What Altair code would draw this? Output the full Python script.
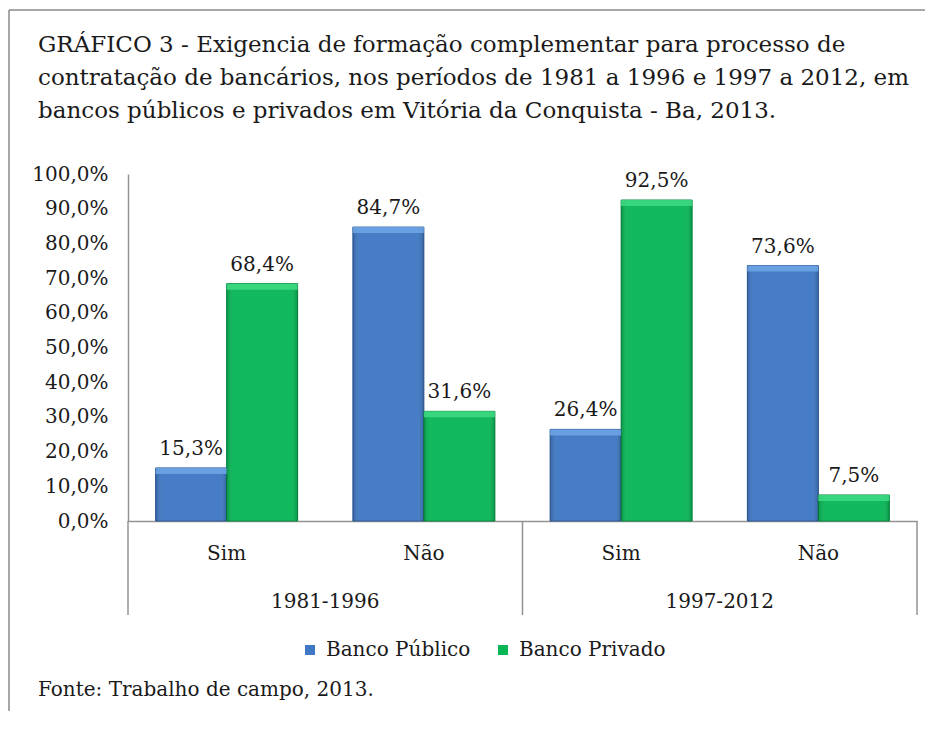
import altair as alt
import pandas as pd

periods = ["1981-1996", "1981-1996", "1997-2012", "1997-2012"]
answers = ["Sim", "Não", "Sim", "Não"]
publico = [15.3, 84.7, 26.4, 73.6]
privado = [68.4, 31.6, 92.5, 7.5]
series = ["Banco Público", "Banco Privado"]
fill_colors = ["#3F78C4", "#08B656"]
stroke_colors = ["#2D5A96", "#06893F"]
top_colors = ["#6FA6E6", "#3FDB83"]
y_ticks = [0, 10, 20, 30, 40, 50, 60, 70, 80, 90, 100]
title_lines = [
    "GRÁFICO 3 - Exigencia de formação complementar para processo de",
    "contratação de bancários, nos períodos de 1981 a 1996 e 1997 a 2012, em",
    "bancos públicos  e privados em Vitória da Conquista - Ba, 2013.",
]
source_text = "Fonte: Trabalho de campo, 2013."

keys = [f"{p}|{a}" for p, a in zip(periods, answers)]
rows = []
for k, p, a, v1, v2 in zip(keys, periods, answers, publico, privado):
    for s, v in zip(series, (v1, v2)):
        rows.append(dict(key=k, period=p, answer=a, series=s, value=v,
                         label=f"{v:.1f}".replace(".", ",") + "%"))
df = pd.DataFrame(rows)

W, H = 789, 347
FONT = "DejaVu Serif"
TXT = "#1a1a1a"
GRAY = "#939393"

xscale = alt.Scale(paddingInner=0, paddingOuter=0)
x_enc = alt.X("key:N", sort=keys, scale=xscale,
              axis=alt.Axis(title=None, ticks=False, tickSize=0, domainColor=GRAY,
                            domainWidth=1.5, labelExpr="split(datum.value, '|')[1]",
                            labelFont=FONT, labelFontSize=20, labelColor=TXT,
                            labelPadding=22, labelAngle=0, labelOverlap=False))
xo_enc = alt.XOffset("series:N", sort=series,
                     scale=alt.Scale(paddingInner=0, paddingOuter=0.389))
y_enc = alt.Y("value:Q", scale=alt.Scale(domain=[0, 100]),
              axis=alt.Axis(title=None, values=y_ticks, grid=False, ticks=False, tickSize=0,
                            domainColor=GRAY, domainWidth=1.5,
                            labelExpr="replace(format(datum.value, '.1f'), '.', ',') + '%'",
                            labelFont=FONT, labelFontSize=20, labelColor=TXT,
                            labelPadding=20))

bars = alt.Chart(df).mark_bar(strokeWidth=1).encode(
    x=x_enc, xOffset=xo_enc, y=y_enc,
    color=alt.Color("series:N", sort=series,
                    scale=alt.Scale(domain=series, range=fill_colors),
                    legend=alt.Legend(title=None, orient="none", legendX=172, legendY=466,
                                      direction="horizontal", symbolType="square",
                                      symbolSize=100, labelFont=FONT, labelFontSize=20,
                                      labelColor=TXT, columnPadding=22, labelOffset=6,
                                      symbolStrokeWidth=0)),
    stroke=alt.Stroke("series:N", sort=series,
                      scale=alt.Scale(domain=series, range=stroke_colors), legend=None),
)

shade = alt.Chart(df).mark_bar(
    fill=alt.Gradient(gradient="linear", x1=0, x2=1, y1=0, y2=0,
                      stops=[alt.GradientStop(offset=0, color="rgba(0,0,0,0.18)"),
                             alt.GradientStop(offset=0.1, color="rgba(255,255,255,0.04)"),
                             alt.GradientStop(offset=0.9, color="rgba(255,255,255,0.04)"),
                             alt.GradientStop(offset=1, color="rgba(0,0,0,0.18)")])
).encode(x=x_enc, xOffset=xo_enc, y=y_enc)

top_strip = alt.Chart(df).mark_bar(y2Offset=6, opacity=0.85, xOffset=2, x2Offset=-2).encode(
    x=x_enc, xOffset=xo_enc, y=y_enc, y2=alt.Y2("value:Q"),
    fill=alt.Fill("series:N", sort=series,
                  scale=alt.Scale(domain=series, range=top_colors), legend=None),
)

labels = alt.Chart(df).mark_text(baseline="bottom", dy=-9, font=FONT, fontSize=20,
                                 color=TXT).encode(
    x=x_enc, xOffset=xo_enc, y=y_enc, text="label:N")

pdf = pd.DataFrame({"period": [periods[0], periods[2]], "key": [keys[1], keys[3]]})
period_labels = alt.Chart(pdf).mark_text(font=FONT, fontSize=20, color=TXT,
                                         baseline="middle").encode(
    x=alt.X("key:N", sort=keys, bandPosition=0), y=alt.value(428), text="period:N")

ddf = pd.DataFrame({"key": [keys[0], keys[2]]})
dividers = alt.Chart(ddf).mark_rule(color=GRAY, strokeWidth=1.5).encode(
    x=alt.X("key:N", sort=keys, bandPosition=0), y=alt.value(H), y2=alt.value(441))
rdf = pd.DataFrame({"key": [keys[3]]})
divider_r = alt.Chart(rdf).mark_rule(color=GRAY, strokeWidth=1.5).encode(
    x=alt.X("key:N", sort=keys, bandPosition=1), y=alt.value(H), y2=alt.value(441))

frame_df = pd.DataFrame({"k": [0]})
frame_left = alt.Chart(frame_df).mark_rule(color="#8a8a8a", strokeWidth=1.5).encode(
    x=alt.value(-119), y=alt.value(-164), y2=alt.value(600))
frame_top = alt.Chart(frame_df).mark_rule(color="#8a8a8a", strokeWidth=1.5).encode(
    x=alt.value(-119), x2=alt.value(830), y=alt.value(-164))

title = alt.Chart(pd.DataFrame({"t": ["\n".join(title_lines)]})).mark_text(
    align="left", baseline="top", lineBreak="\n", lineHeight=33, font=FONT,
    fontSize=23, color=TXT).encode(x=alt.value(-90), y=alt.value(-140), text="t:N")

source = alt.Chart(pd.DataFrame({"t": [source_text]})).mark_text(
    align="left", baseline="middle", font=FONT, fontSize=20, color=TXT).encode(
    x=alt.value(-90), y=alt.value(516), text="t:N")

chart = alt.layer(
    frame_left, frame_top, bars, shade, top_strip, labels, period_labels, dividers,
    divider_r, title, source
).properties(
    width=W, height=H,
    autosize=alt.AutoSizeParams(type="none"),
    padding={"left": 120, "top": 166, "right": 8, "bottom": 190},
    background="white",
).configure_view(stroke=None)

chart.save("out.html", embed_options={"renderer": "svg", "actions": False})
